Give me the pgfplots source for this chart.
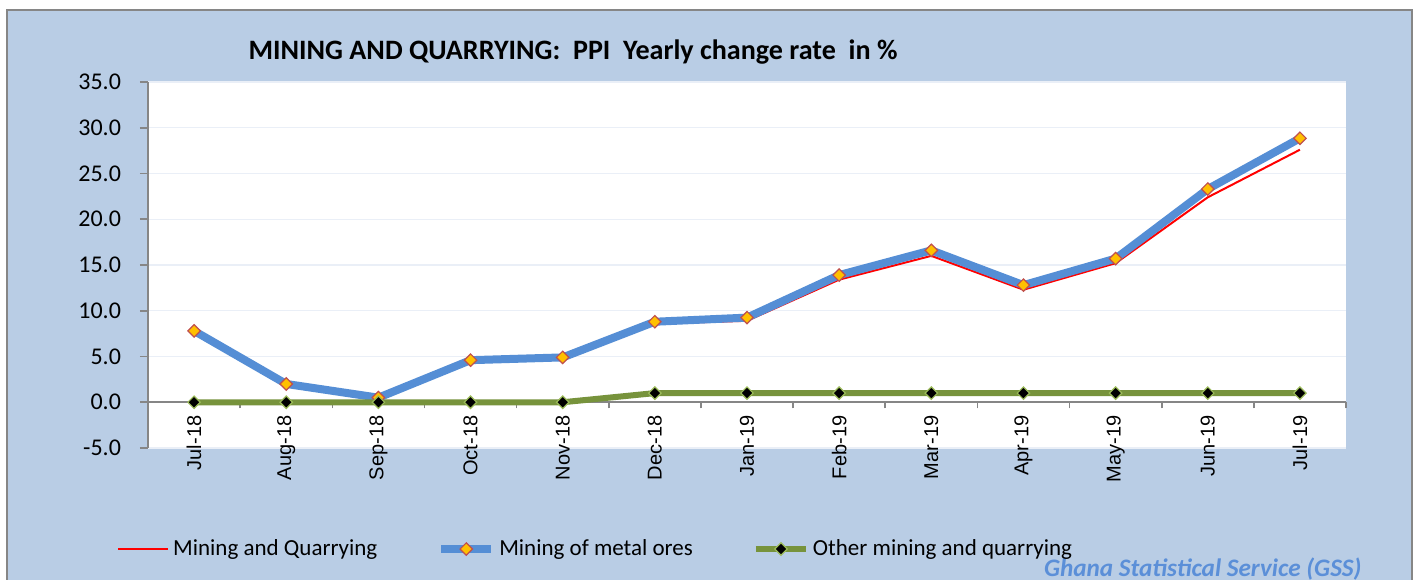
\documentclass[border=0pt]{standalone}
\usepackage{pgfplots}
\pgfplotsset{compat=1.18}
\usepackage{fontspec}
\setmainfont{Carlito}
\newfontfamily\arialfont{Liberation Sans}
\definecolor{bgblue}{HTML}{B9CDE5}
\definecolor{metalblue}{HTML}{558ED5}
\definecolor{othergreen}{HTML}{77933C}
\definecolor{gridc}{HTML}{EAEFF7}
\definecolor{gold}{HTML}{FFC000}
\definecolor{markred}{HTML}{C0504D}
\definecolor{lightgreen}{HTML}{9BBB59}
\definecolor{axisgray}{HTML}{868686}
\definecolor{gssblue}{HTML}{5B8FD8}

\pgfplotstableread{
x mq metal other
0 7.6 7.8 0
1 2.0 2.0 0
2 0.4 0.5 0
3 4.5 4.6 0
4 4.8 4.9 0
5 8.6 8.8 1.0
6 8.9 9.25 1.0
7 13.4 13.9 1.0
8 16.0 16.6 1.0
9 12.3 12.8 1.0
10 15.2 15.7 1.0
11 22.4 23.3 1.0
12 27.6 28.85 1.0
}\datatable

\begin{document}
\begin{tikzpicture}
\useasboundingbox (0,0) rectangle (708.5bp,-290bp);
\fill[white] (0,0) rectangle (708.5bp,-290bp);
\filldraw[fill=bgblue, draw=axisgray, line width=1bp] (3.5bp,-5bp) rectangle (706bp,-296bp);
\node[font=\bfseries\fontsize{14.05bp}{16bp}\selectfont] at (286.5bp,-26bp) {MINING AND QUARRYING:\ \ PPI\ \ Yearly change rate\ \ in \%};
\node[anchor=east, text=gssblue, inner sep=0pt, font=\bfseries\itshape\fontsize{12.6bp}{15bp}\selectfont] at (681bp,-284.5bp) {Ghana Statistical Service (GSS)};
\begin{axis}[
  at={(74bp,-224bp)}, anchor=south west,
  scale only axis, width=599bp, height=183bp,
  xmin=-0.5, xmax=12.5, ymin=-5, ymax=35,
  clip=false,
  axis background/.style={fill=white},
  axis x line=middle, axis y line=left,
  x axis line style={-, draw=axisgray, line width=1bp},
  y axis line style={-, draw=axisgray, line width=1bp},
  xtick={0,...,12},
  xticklabels={Jul-18,Aug-18,Sep-18,Oct-18,Nov-18,Dec-18,Jan-19,Feb-19,Mar-19,Apr-19,May-19,Jun-19,Jul-19},
  minor xtick={-0.5,0.5,...,12.5},
  major x tick style={draw=none},
  minor x tick style={draw=axisgray, line width=0.8bp},
  minor tick length=3bp,
  xtick align=outside,
  x tick label style={rotate=90, anchor=east, font=\arialfont\fontsize{10bp}{12bp}\selectfont, inner sep=2bp, yshift=0bp, xshift=-0.5bp},
  ytick={-5,0,...,35},
  ytick align=outside,
  major y tick style={draw=axisgray, line width=0.8bp},
  major tick length=4bp,
  y tick label style={font=\fontsize{12bp}{14bp}\selectfont, xshift=-6bp},
  yticklabel style={/pgf/number format/.cd, fixed, fixed zerofill, precision=1, assume math mode=true},
  ymajorgrids, grid style={draw=gridc, line width=0.6bp},
  legend columns=3,
  legend style={at={(rel axis cs:-0.031,-0.276)}, anchor=west, draw=none, fill=none,
    font=\fontsize{11.5bp}{13bp}\selectfont,
    /tikz/every even column/.append style={column sep=28bp}},
  legend cell align=left,
  legend image code/.code={\draw[mark repeat=2,mark phase=2,#1] plot coordinates {(0bp,0bp) (12.5bp,0bp) (25bp,0bp)};},
]
\addplot[red, line width=1bp, no markers] table[x=x,y=mq]{\datatable};
\addlegendentry{Mining and Quarrying}
\addplot[metalblue, line width=4bp, mark=square*, mark size=2.2bp,
  mark options={rotate=45, fill=gold, draw=markred, line width=0.6bp, solid}] table[x=x,y=metal]{\datatable};
\addlegendentry{Mining of metal ores}
\addplot[othergreen, line width=3bp, mark=square*, mark size=2.2bp,
  mark options={rotate=45, fill=black, draw=lightgreen, line width=0.6bp, solid}] table[x=x,y=other]{\datatable};
\addlegendentry{Other mining and quarrying}
\end{axis}
\end{tikzpicture}
\end{document}
